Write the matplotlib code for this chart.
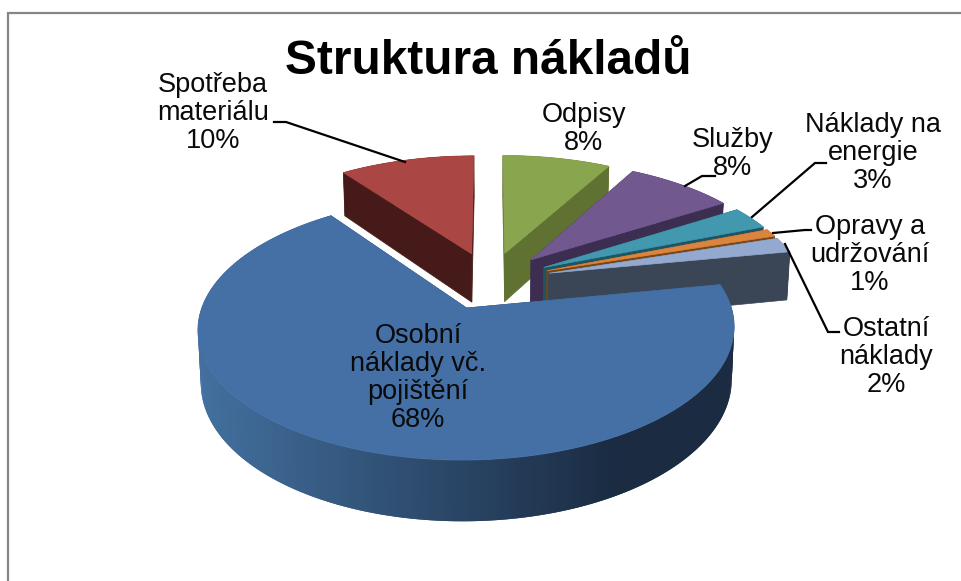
import numpy as np
import matplotlib
matplotlib.use("Agg")
import matplotlib.pyplot as plt
from matplotlib.collections import PolyCollection
from matplotlib.colors import to_rgb

plt.rcParams['font.family'] = ['Liberation Sans', 'DejaVu Sans']

title = "Struktura nákladů"
# clockwise from 12 o'clock, the order of the Excel series
names = ["Odpisy", "Služby", "Náklady na\nenergie", "Opravy a\nudržování",
         "Ostatní\nnáklady", "Osobní\nnáklady vč.\npojištění", "Spotřeba\nmateriálu"]
values = [8, 8, 3, 1, 2, 68, 10]
top_colors = ["#89a54e", "#71588f", "#4198af", "#db843d", "#93a9cf", "#4470a5", "#aa4643"]
wall_colors = ["#5f7232", "#3c2e50", "#1e5563", "#7a4515", "#3a4556", "#2d4a6e", "#451a18"]

# centre of each label on the canvas
label_x = [584, 733, 873, 870, 886, 418, 213]
label_y = [129, 154, 153, 255, 357, 378, 113]

# leader lines, canvas pixels
leaders = [
    ([274, 286, 405], [122, 122, 162]),
    ([685, 702, 715], [186, 176, 176]),
    ([752, 815, 826], [217, 163, 163]),
    ([773, 805, 811], [233, 230, 230]),
    ([785, 828, 839], [244, 332, 332]),
]

CX, CY = 490, 280.3
A, B = 256, 120
K = 0.15      # perspective
EXPLODE = 0.24
DEPTH = 50
BOTTOM_SHRINK = 0.99


def project(X, Y, low=False):
    den = 1 + K * np.asarray(Y)
    x = CX + A * np.asarray(X) / den
    y = CY - B * np.asarray(Y) / den
    if low:
        x = CX + (x - CX) * BOTTOM_SHRINK
        y = y + DEPTH / den
    return x, y


def drawSlice(ax, t0, t1, top, wall, gradient=False):
    mid = (t0 + t1) / 2
    ox, oy = EXPLODE * np.sin(mid), EXPLODE * np.cos(mid)
    t = np.linspace(t0, t1, max(int(np.degrees(t1 - t0)) + 2, 4))
    rimX, rimY = ox + np.sin(t), oy + np.cos(t)

    ax_, ay_ = project(ox, oy)
    bx_, by_ = project(ox, oy, low=True)
    tx, ty = project(rimX, rimY)
    lx, ly = project(rimX, rimY, low=True)

    # the two cut faces
    for i in (0, -1):
        ax.fill([ax_, tx[i], lx[i], bx_], [ay_, ty[i], ly[i], by_],
                facecolor=wall, edgecolor=wall, lw=0.5, zorder=1)

    # outer rim, quads overlap the next one so no seams show
    quads = []
    cols = []
    left = np.array(to_rgb("#43709f"))
    right = np.array(to_rgb("#1a2b42"))
    base = np.array(to_rgb(wall))
    n = len(t)
    # right-hand side first, painted toward the left would also work
    for i in range(n - 1):
        j = min(i + 2, n - 1)
        quads.append([(tx[i], ty[i]), (tx[j], ty[j]), (lx[j], ly[j]), (lx[i], ly[i])])
        if gradient:
            f = np.clip((tx[i] - 200) / (620 - 200), 0, 1)
            cols.append(left + (right - left) * f)
        else:
            cols.append(base)
    ax.add_collection(PolyCollection(quads, facecolors=cols, edgecolors="none", zorder=1))

    # top face
    ax.fill(np.r_[ax_, tx], np.r_[ay_, ty], facecolor=top, edgecolor=top, lw=0.5, zorder=1)


fig = plt.figure(figsize=(9.62, 5.81), dpi=100)
ax = fig.add_axes([0, 0, 1, 1])
ax.set_xlim(0, 962)
ax.set_ylim(581, 0)
ax.axis("off")

# chart frame: only the top and left edges are inside the crop
ax.plot([8, 8, 962], [581, 13, 13], color="#868686", lw=1.6, solid_joinstyle="miter")

edges = np.cumsum([0] + values) / sum(values) * 2 * np.pi
order = [6, 0, 1, 2, 3, 4, 5]  # back to front
for i in order:
    drawSlice(ax, edges[i], edges[i + 1], top_colors[i], wall_colors[i], gradient=(i == 5))

for xs, ys in leaders:
    ax.plot(xs, ys, color="black", lw=1.6, zorder=3, solid_joinstyle="miter")

for i in range(len(names)):
    ax.text(label_x[i], label_y[i], f"{names[i]}\n{values[i]}%", ha="center", va="center",
            fontsize=19.5, linespacing=1.09, color="#0a0a0a", zorder=4)

ax.text(488.5, 62, title, ha="center", va="center", fontsize=34.4, fontweight="bold", color="black", zorder=4)

fig.savefig("out.png", dpi=100)
